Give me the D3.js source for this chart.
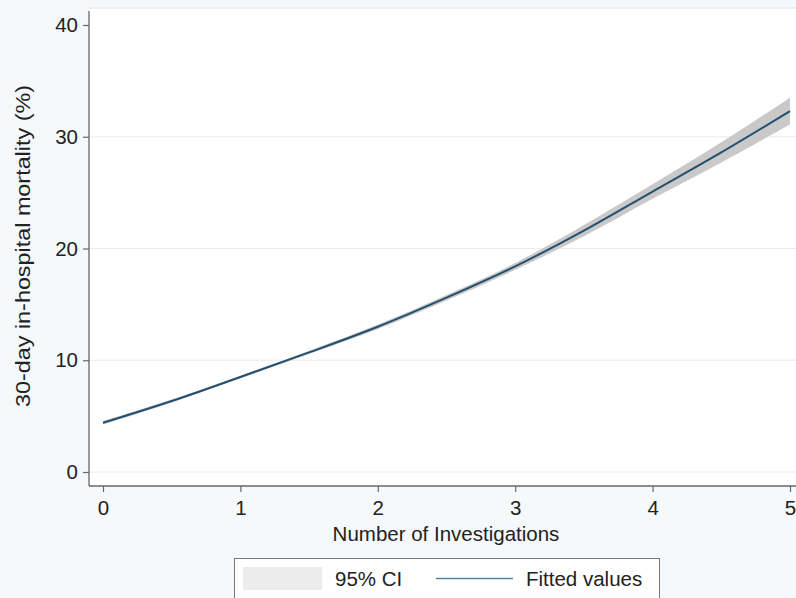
<!DOCTYPE html>
<html><head><meta charset="utf-8">
<script src="https://cdn.jsdelivr.net/npm/d3@7"></script>
<style>html,body{margin:0;padding:0;background:#f6f9fb;}svg{display:block;}</style>
</head><body>
<svg id="c" width="796" height="598"></svg>
<script>
const xValues = [0, 0.5, 1, 1.5, 2, 2.5, 3, 3.5, 4, 4.5, 5];
const fitted  = [4.4, 6.35, 8.5, 10.7, 13.0, 15.6, 18.4, 21.6, 25.1, 28.6, 32.3];
const ciLow   = [4.25, 6.22, 8.38, 10.55, 12.8, 15.35, 18.1, 21.1, 24.45, 27.7, 31.1];
const ciHigh  = [4.55, 6.48, 8.62, 10.85, 13.2, 15.85, 18.7, 22.1, 25.75, 29.5, 33.5];
const xTicks = [0, 1, 2, 3, 4, 5];
const yTicks = [0, 10, 20, 30, 40];
const legendLabels = ["95% CI", "Fitted values"];

(function () {
const svg = d3.select("#c");
const font = "'Liberation Sans', Arial, Helvetica, sans-serif";
const fs = 20.5;
const pL = 89, pR = 796, pT = 8, pB = 486;
const x = d3.scaleLinear().domain([0, 5]).range([103, 790]);
const y = d3.scaleLinear().domain([0, 40]).range([472, 25]);

// plot region
svg.append("rect").attr("x", pL).attr("y", pT).attr("width", pR - pL).attr("height", pB - pT).attr("fill", "#ffffff");
svg.append("rect").attr("x", pL).attr("y", pT - 1).attr("width", pR - pL).attr("height", 2).attr("fill", "#eaf2f7");

// grid
svg.append("g").selectAll("line").data(yTicks.filter(d => d < 40)).join("line")
  .attr("x1", pL + 1).attr("x2", pR).attr("y1", d => y(d)).attr("y2", d => y(d))
  .attr("stroke", "#ebebeb").attr("stroke-width", 1.2);

const data = xValues.map((v, i) => ({x: v, f: fitted[i], lo: ciLow[i], hi: ciHigh[i]}));
svg.append("path").datum(data)
  .attr("d", d3.area().x(d => x(d.x)).y0(d => y(d.lo)).y1(d => y(d.hi)).curve(d3.curveCatmullRom))
  .attr("fill", "#c9c9c9");
svg.append("path").datum(data)
  .attr("d", d3.line().x(d => x(d.x)).y(d => y(d.f)).curve(d3.curveCatmullRom))
  .attr("fill", "none").attr("stroke", "#24506f").attr("stroke-width", 2);

// axes
const yAxis = svg.append("g").attr("transform", `translate(${pL},0)`)
  .call(d3.axisLeft(y).tickValues(yTicks).tickFormat(d3.format("d")).tickSize(6).tickPadding(5));
yAxis.select(".domain").attr("d", `M0,${pT + 3}V${pB}`);
const xAxis = svg.append("g").attr("transform", `translate(0,${pB})`)
  .call(d3.axisBottom(x).tickValues(xTicks).tickFormat(d3.format("d")).tickSize(6).tickPadding(8));
xAxis.select(".domain").attr("d", `M${pL},0H${pR}`);
[yAxis, xAxis].forEach(a => {
  a.selectAll(".domain").attr("stroke", "#666").attr("stroke-width", 1.3);
  a.selectAll(".tick line").attr("stroke", "#666").attr("stroke-width", 1.2);
  a.selectAll("text").attr("font-family", font).attr("font-size", fs).attr("fill", "#222");
});

svg.append("text").attr("transform", "translate(30,246) rotate(-90)")
  .attr("text-anchor", "middle").attr("font-family", font).attr("font-size", fs).attr("fill", "#222")
  .attr("textLength", 322).attr("lengthAdjust", "spacingAndGlyphs")
  .text("30-day in-hospital mortality (%)");
svg.append("text").attr("x", 446).attr("y", 541).attr("text-anchor", "middle")
  .attr("font-family", font).attr("font-size", fs).attr("fill", "#222").text("Number of Investigations");

// legend
const lg = svg.append("g");
lg.append("rect").attr("x", 234.5).attr("y", 558.5).attr("width", 425).attr("height", 50)
  .attr("fill", "#ffffff").attr("stroke", "#777").attr("stroke-width", 1);
lg.append("rect").attr("x", 243).attr("y", 567).attr("width", 79).attr("height", 23).attr("fill", "#ececec");
lg.append("line").attr("x1", 436).attr("x2", 513).attr("y1", 578.5).attr("y2", 578.5)
  .attr("stroke", "#4f86ad").attr("stroke-width", 1.6);
lg.selectAll("text").data(legendLabels).join("text")
  .attr("x", (d, i) => i === 0 ? 335 : 526).attr("y", 586)
  .attr("font-family", font).attr("font-size", fs).attr("fill", "#222").text(d => d);
})();
</script>
</body></html>
